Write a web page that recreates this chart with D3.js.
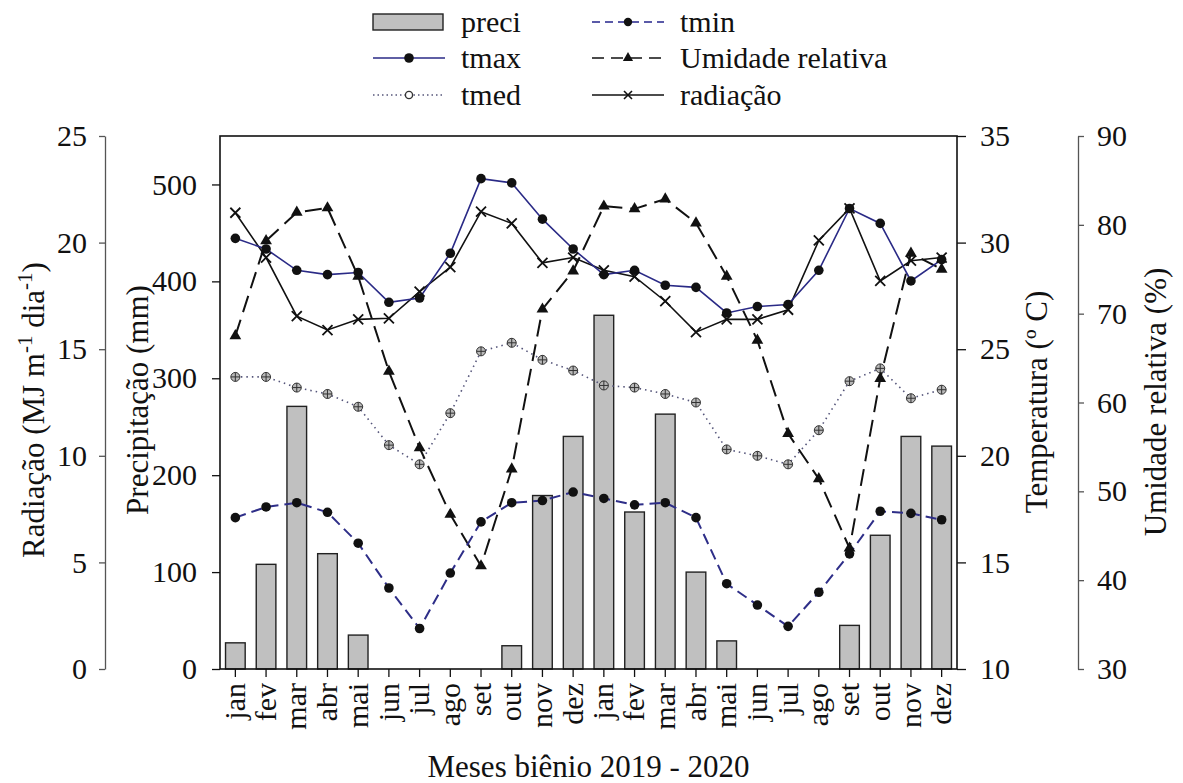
<!DOCTYPE html>
<html><head><meta charset="utf-8">
<script src="https://cdn.jsdelivr.net/npm/d3@7"></script>
<style>
body{margin:0;background:#fff}
svg{display:block}
</style>
</head><body>
<svg id="c" width="1183" height="783"></svg>
<script>
// ---- data ----
const monthLabels = ["jan","fev","mar","abr","mai","jun","jul","ago","set","out","nov","dez",
                     "jan","fev","mar","abr","mai","jun","jul","ago","set","out","nov","dez"];
const preci    = [27,108,271,119,35,0,0,0,0,24,179,240, 365,162,263,100,29,0,0,0,45,138,240,230];
const tmax     = [30.2,29.7,28.7,28.5,28.6,27.2,27.4,29.5,33.0,32.8,31.1,29.7, 28.5,28.7,28.0,27.9,26.7,27.0,27.1,28.7,31.6,30.9,28.2,29.2];
const tmin     = [17.1,17.6,17.8,17.35,15.9,13.8,11.9,14.5,16.9,17.8,17.9,18.3, 18.0,17.7,17.8,17.1,14.0,13.0,12.0,13.6,15.4,17.4,17.3,17.0];
const tmed     = [23.7,23.7,23.2,22.9,22.3,20.5,19.6,22.0,24.9,25.3,24.5,24.0, 23.3,23.2,22.9,22.5,20.3,20.0,19.6,21.2,23.5,24.1,22.7,23.1];
const umidade  = [67.5,78.2,81.4,81.9,74.2,63.5,54.9,47.4,41.6,52.5,70.5,74.8, 82.1,81.8,82.9,80.2,74.2,67.0,56.5,51.4,43.6,62.7,76.8,75.0];
const radiacao = [21.4,19.3,16.55,15.9,16.4,16.45,17.7,18.85,21.45,20.9,19.05,19.3, 18.7,18.4,17.25,15.8,16.4,16.4,16.85,20.1,21.6,18.2,19.15,19.3];
const preciTicks = [0,100,200,300,400,500];
const radTicks   = [0,5,10,15,20,25];
const tempTicks  = [10,15,20,25,30,35];
const urTicks    = [30,40,50,60,70,80,90];

// ---- layout ----
const L=220, R=957, T=136, B=669;
const FS = 30, TFS = 31;
const FONT = "'Liberation Serif','Times New Roman',serif";
const svg = d3.select("#c").style("font-family",FONT);
const idx = d3.range(monthLabels.length);
const x = d3.scaleBand().domain(idx).range([L,R]).paddingInner(0.36).paddingOuter(0.18);
const cx = i => x(i) + x.bandwidth()/2;
const yP = d3.scaleLinear().domain([0,550]).range([B,T]);
const yR = d3.scaleLinear().domain([0,25]).range([B,T]);
const yT = d3.scaleLinear().domain([10,35]).range([B,T]);
const yU = d3.scaleLinear().domain([30,90]).range([B,T]);

// bars
svg.append("g").selectAll("rect").data(preci).join("rect")
  .attr("x",(d,i)=>x(i)).attr("width",x.bandwidth())
  .attr("y",d=>yP(d)).attr("height",d=>yP(0)-yP(d))
  .attr("fill","#c0c0c0").attr("stroke","#222").attr("stroke-width",1.4)
  .attr("display",d=>d>0?null:"none");

function styleAxis(g, color){
  g.attr("font-family",FONT);
  g.selectAll("text").style("font-size",FS+"px").attr("fill","#111");
  g.selectAll("line").attr("stroke",color).attr("stroke-width",1.3);
  g.select(".domain").attr("stroke",color).attr("stroke-width",1.3);
}
const gP = svg.append("g").attr("transform",`translate(${L},0)`)
  .call(d3.axisLeft(yP).tickValues(preciTicks).tickSize(8).tickSizeOuter(0).tickPadding(15));
styleAxis(gP,"#111"); gP.select(".domain").remove();
const gT = svg.append("g").attr("transform",`translate(${R},0)`)
  .call(d3.axisRight(yT).tickValues(tempTicks).tickSize(9).tickSizeOuter(0).tickPadding(14));
styleAxis(gT,"#111"); gT.select(".domain").remove();
const gR = svg.append("g").attr("transform",`translate(105,0)`)
  .call(d3.axisLeft(yR).tickValues(radTicks).tickSize(6).tickSizeOuter(0).tickPadding(12));
styleAxis(gR,"#555");
const gU = svg.append("g").attr("transform",`translate(1078,0)`)
  .call(d3.axisRight(yU).tickValues(urTicks).tickSize(6).tickSizeOuter(0).tickPadding(13));
styleAxis(gU,"#555");
const gX = svg.append("g").attr("transform",`translate(0,${B})`)
  .call(d3.axisBottom(x).tickFormat(i=>monthLabels[i]).tickSize(8).tickSizeOuter(0));
styleAxis(gX,"#111"); gX.select(".domain").remove();
gX.selectAll("text").attr("transform","rotate(-90)")
  .attr("x",-14).attr("y",0).attr("dy","0.32em").attr("text-anchor","end");

// frame
svg.append("rect").attr("x",L).attr("y",T).attr("width",R-L).attr("height",B-T)
  .attr("fill","none").attr("stroke","#111").attr("stroke-width",1.6);

// lines
function drawLine(vals, yScale, color, width, dash){
  svg.append("path").datum(vals)
    .attr("d", d3.line().x((d,i)=>cx(i)).y(d=>yScale(d)))
    .attr("fill","none").attr("stroke",color).attr("stroke-width",width)
    .attr("stroke-dasharray",dash||null);
}
drawLine(tmed, yT, "#55557a", 1.6, "1.5,4");
drawLine(umidade, yU, "#111", 2, "17,8");
drawLine(tmin, yT, "#2e2e88", 2, "11,6");
drawLine(radiacao, yR, "#111", 1.6);
drawLine(tmax, yT, "#2a2a86", 1.6);

// markers
const triPath = d3.symbol(d3.symbolTriangle, 60)();
const xPath = "M-5,-5L5,5M-5,5L5,-5";
function tmedMarker(g){
  g.append("circle").attr("r",4.5).attr("fill","#b8b8b8").attr("stroke","#333").attr("stroke-width",1);
  g.append("path").attr("d","M-4.5,0H4.5M0,-4.5V4.5").attr("stroke","#333").attr("stroke-width",1);
}
svg.append("g").selectAll("g").data(tmed).join("g")
  .attr("transform",(d,i)=>`translate(${cx(i)},${yT(d)})`).each(function(){tmedMarker(d3.select(this));});
svg.append("g").selectAll("path").data(umidade).join("path")
  .attr("transform",(d,i)=>`translate(${cx(i)},${yU(d)})`).attr("d",triPath).attr("fill","#111");
svg.append("g").selectAll("circle").data(tmin).join("circle")
  .attr("cx",(d,i)=>cx(i)).attr("cy",d=>yT(d)).attr("r",4.8).attr("fill","#111");
svg.append("g").selectAll("path").data(radiacao).join("path")
  .attr("transform",(d,i)=>`translate(${cx(i)},${yR(d)})`).attr("d",xPath)
  .attr("stroke","#111").attr("stroke-width",1.8).attr("fill","none");
svg.append("g").selectAll("circle").data(tmax).join("circle")
  .attr("cx",(d,i)=>cx(i)).attr("cy",d=>yT(d)).attr("r",4.8).attr("fill","#111");

// titles
function vTitle(xp, yp){ return svg.append("text").attr("transform",`translate(${xp},${yp}) rotate(-90)`)
  .attr("text-anchor","middle").style("font-size",TFS+"px"); }
const tr = vTitle(44,410);
tr.append("tspan").text("Radiação (MJ m");
tr.append("tspan").text("-1").attr("baseline-shift","super").style("font-size","21px");
tr.append("tspan").text(" dia");
tr.append("tspan").text("-1").attr("baseline-shift","super").style("font-size","21px");
tr.append("tspan").text(")");
vTitle(148,400).text("Precipitação (mm)");
vTitle(1047,402).text("Temperatura (º C)");
vTitle(1166,402).text("Umidade relativa (%)");
svg.append("text").attr("x",(L+R)/2).attr("y",777).attr("text-anchor","middle")
  .style("font-size",TFS+"px").text("Meses biênio 2019 - 2020");

// legend
const lg = svg.append("g");
const rows=[22,58,95];
const c1=373, c2=592, sw=72;
lg.append("rect").attr("x",c1).attr("y",rows[0]-8).attr("width",sw-2).attr("height",16)
  .attr("fill","#c0c0c0").attr("stroke","#222").attr("stroke-width",1.4);
function legLine(x0,y0,color,width,dash){
  lg.append("line").attr("x1",x0).attr("x2",x0+sw).attr("y1",y0).attr("y2",y0)
    .attr("stroke",color).attr("stroke-width",width).attr("stroke-dasharray",dash||null);
}
legLine(c1,rows[1],"#2a2a86",1.6);
lg.append("circle").attr("cx",c1+sw/2).attr("cy",rows[1]).attr("r",4.8).attr("fill","#111");
legLine(c1,rows[2],"#55557a",1.4,"1.5,3");
lg.append("circle").attr("cx",c1+sw/2).attr("cy",rows[2]).attr("r",3.6).attr("fill","#fff").attr("stroke","#333").attr("stroke-width",1.4);
legLine(c2,rows[0],"#5a5aa8",2,"8,5");
lg.append("circle").attr("cx",c2+sw/2).attr("cy",rows[0]).attr("r",4.2).attr("fill","#111");
legLine(c2,rows[1],"#111",1.6,"12,7");
lg.append("path").attr("transform",`translate(${c2+sw/2},${rows[1]})`).attr("d",d3.symbol(d3.symbolTriangle,45)()).attr("fill","#111");
legLine(c2,rows[2],"#111",1.6);
lg.append("path").attr("transform",`translate(${c2+sw/2},${rows[2]})`).attr("d","M-4,-4L4,4M-4,4L4,-4").attr("stroke","#111").attr("stroke-width",1.6);
const legText=[["preci",c1],["tmax",c1],["tmed",c1],["tmin",c2],["Umidade relativa",c2],["radiação",c2]];
legText.forEach((d,k)=>{
  lg.append("text").attr("x",d[1]+sw+16).attr("y",rows[k%3]).attr("dy","0.33em")
    .style("font-size",FS+"px").text(d[0]);
});
svg.selectAll("text").style("font-family",FONT).attr("fill","#111");
</script>
</body></html>
